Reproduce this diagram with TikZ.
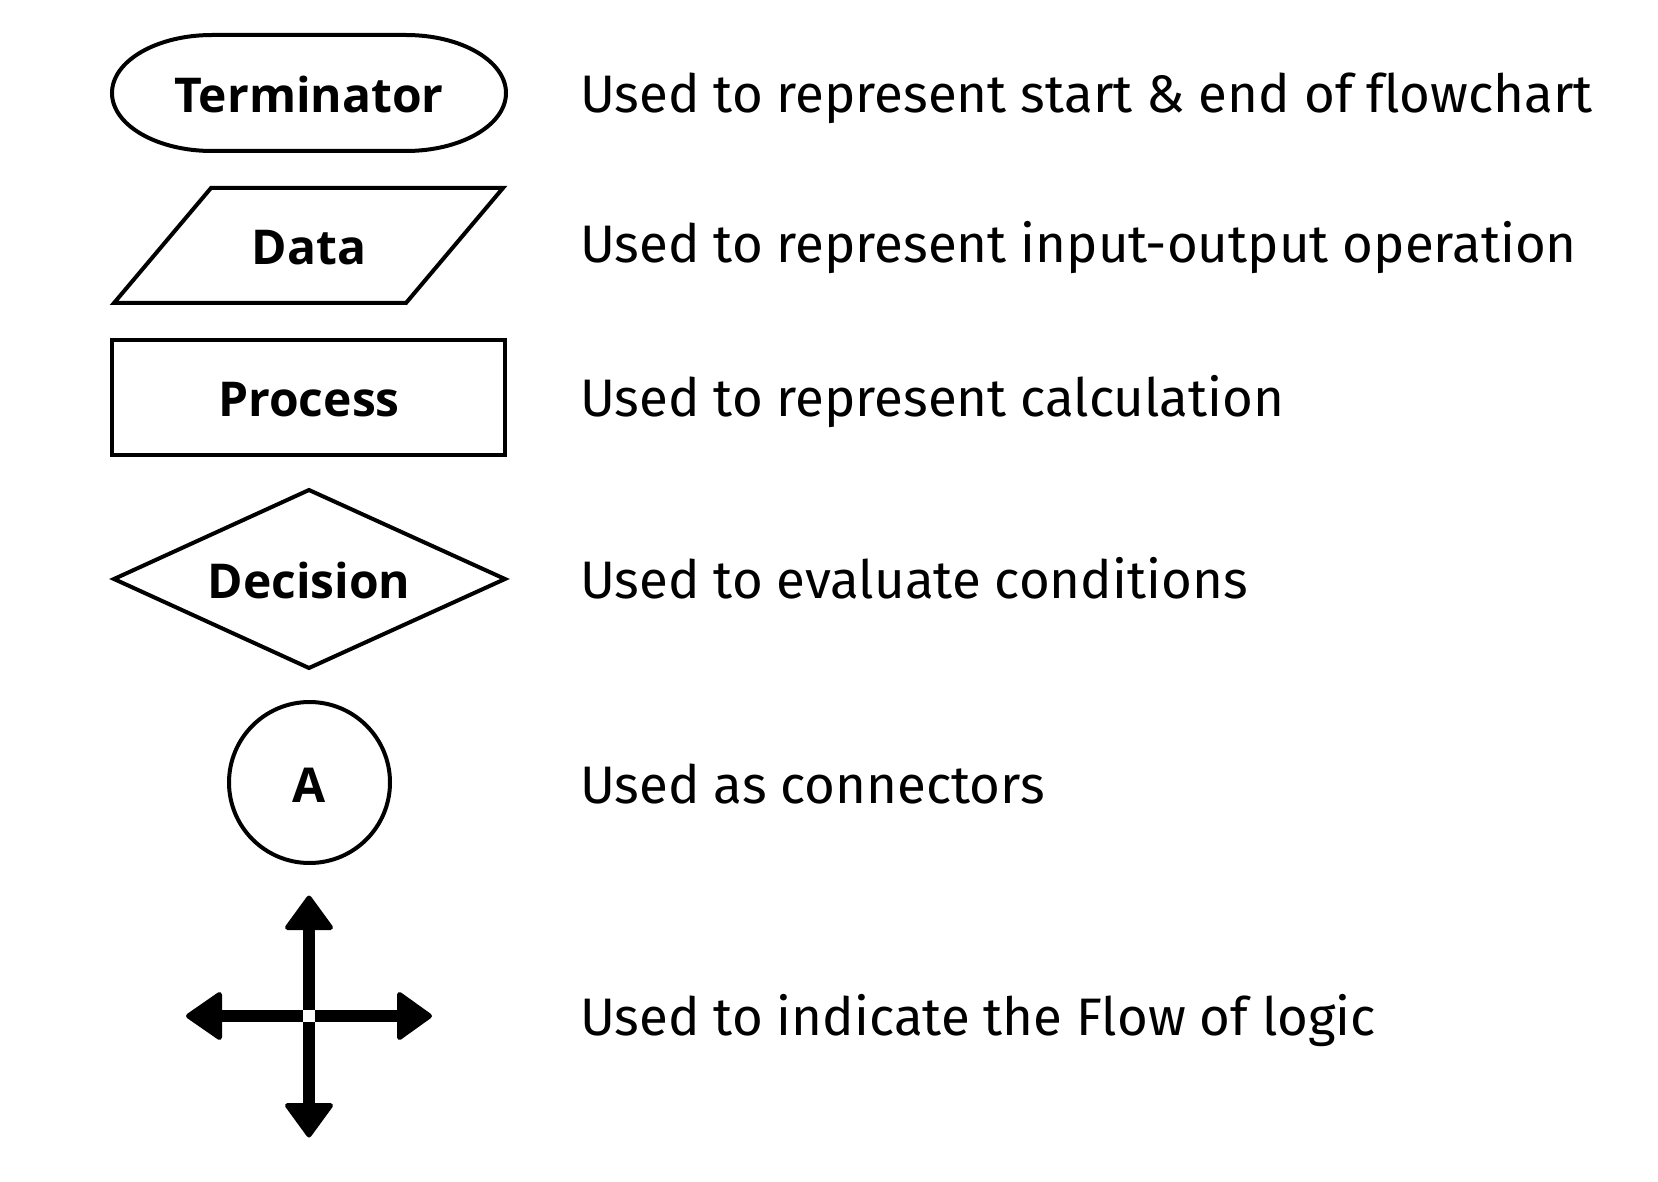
\documentclass[tikz,border=0pt]{standalone}
\usepackage{fontspec}
\setmainfont{Fira Sans}[Ligatures=NoCommon]
\newfontfamily\labelfont{Open Sans}
\begin{document}
\begin{tikzpicture}[x=1pt,y=-1pt,
  shape line/.style={draw=black,line width=4pt,line join=miter},
  lbl/.style={font=\labelfont\fontsize{48}{55}\selectfont\bfseries,anchor=base,inner sep=0pt},
  desc/.style={font=\fontsize{52.8}{60}\selectfont,anchor=base west,inner sep=0pt},
  head/.style={fill=black,draw=black,line width=5pt,line join=round}]
\useasboundingbox (0,0) rectangle (1658,1182);
\fill[white] (0,0) rectangle (1658,1182);
% Terminator
\draw[shape line] (212,35) -- (406,35) arc[start angle=90,end angle=-90,x radius=100,y radius=-58]
  -- (212,151) arc[start angle=270,end angle=90,x radius=100,y radius=-58] -- cycle;
\node[lbl] (tlab) at (309,113) {Terminator};
% Data
\draw[shape line] (211,188) -- (503,188) -- (406,303) -- (114,303) -- cycle;
\node[lbl] (dlab) at (309,265) {Data};
% Process
\draw[shape line] (112,340) rectangle (505,455);
\node[lbl] (plab) at (309,417) {Process};
% Decision
\draw[shape line] (309,490) -- (505,579) -- (309,668) -- (114,579) -- cycle;
\node[lbl] (declab) at (309,598) {Decision};
% Connector
\draw[line width=4pt] (309.5,782.5) circle[radius=80.5];
\node[lbl] (alab) at (309.5,802) {A};
% Flow arrows
\coordinate (c) at (309,1016);
\draw[line width=12pt] (309,1010) -- (309,925);
\draw[line width=12pt] (309,1022) -- (309,1108);
\draw[line width=12pt] (303,1016) -- (217,1016);
\draw[line width=12pt] (315,1016) -- (402,1016);
\filldraw[head] (309,898) -- (287.5,927.5) -- (330.5,927.5) -- cycle;
\filldraw[head] (309,1135) -- (287.5,1105.5) -- (330.5,1105.5) -- cycle;
\filldraw[head] (188.5,1016) -- (219.5,994.5) -- (219.5,1037.5) -- cycle;
\filldraw[head] (429.5,1016) -- (399.5,994.5) -- (399.5,1037.5) -- cycle;
% Descriptions
\node[desc] (d1) at (580,113) {Used to represent start \& end of flowchart};
\node[desc] (d2) at (580,263) {Used to represent input-output operation};
\node[desc] (d3) at (580,417) {Used to represent calculation};
\node[desc] (d4) at (580,598) {Used to evaluate conditions};
\node[desc] (d5) at (580,803) {Used as connectors};
\node[desc] (d6) at (580,1035) {Used to indicate the Flow of logic};
\end{tikzpicture}
\end{document}
